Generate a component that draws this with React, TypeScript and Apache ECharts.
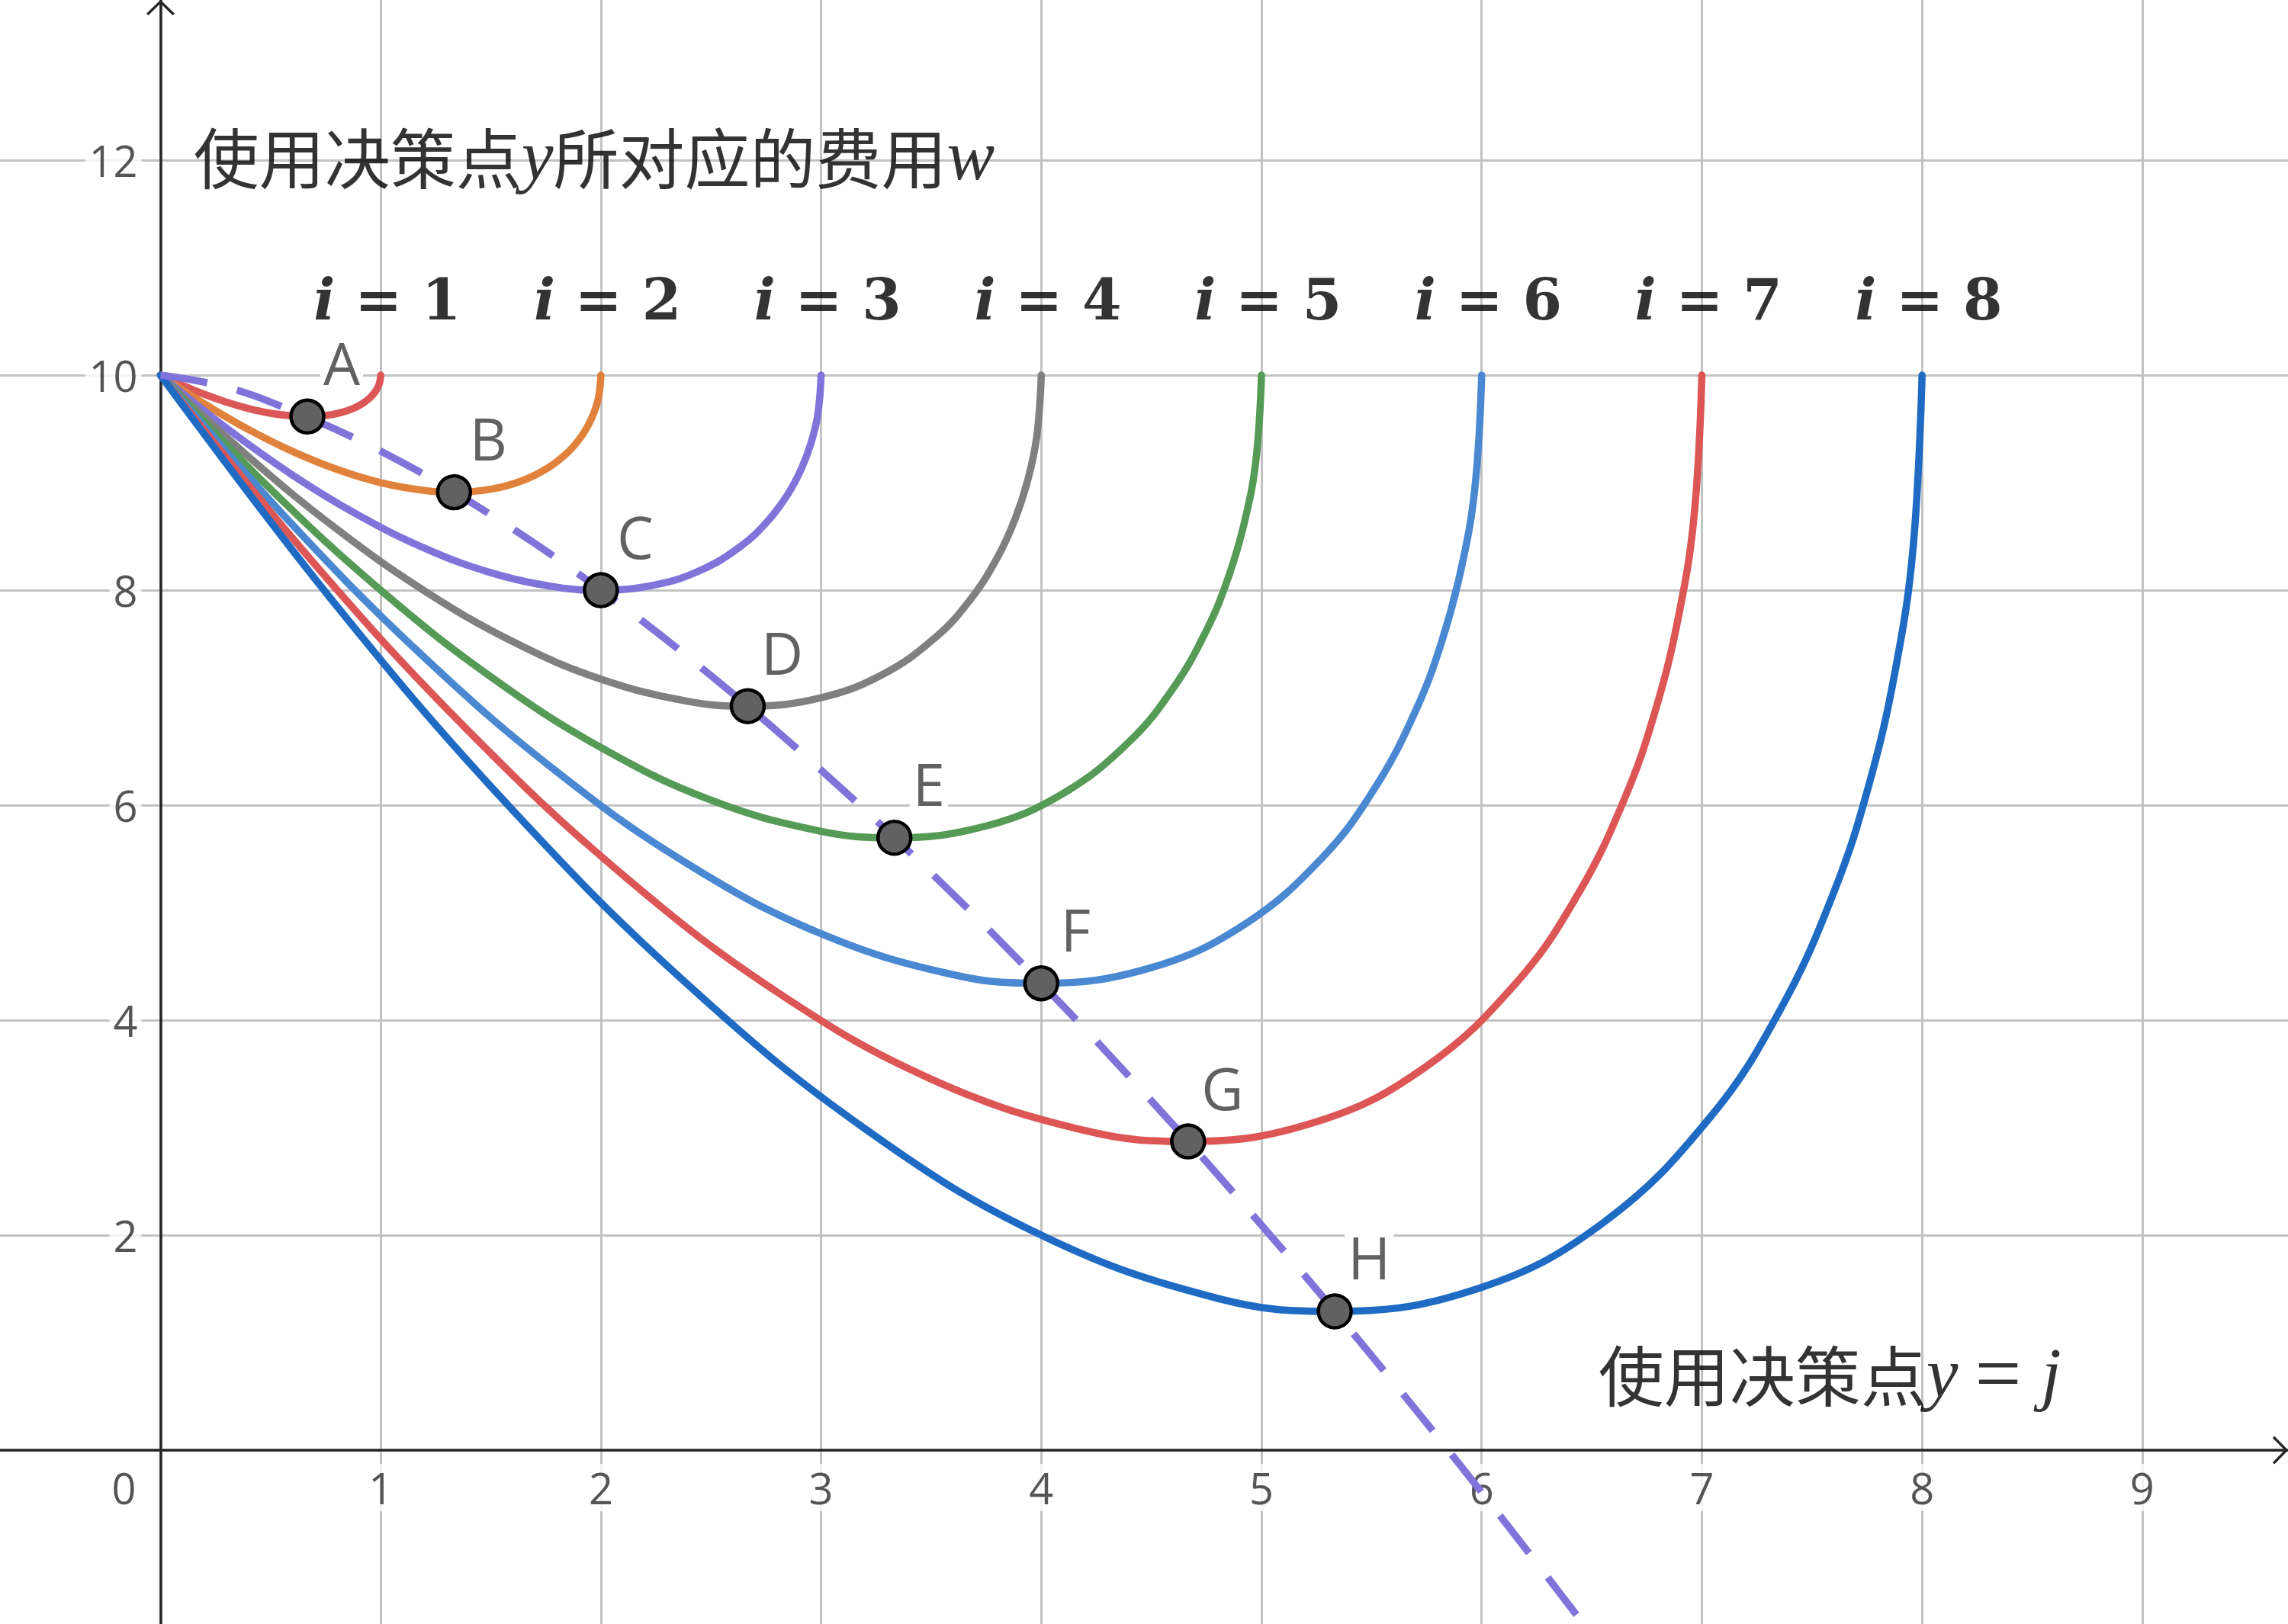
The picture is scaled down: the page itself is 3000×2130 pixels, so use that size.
import { useEffect, useRef } from 'react'
import * as echarts from 'echarts'

// cost curves w(y) for each i as [y, w] pairs
const curveI1 = [[0, 10], [0.1, 9.905], [0.2, 9.821], [0.3, 9.749], [0.4, 9.69], [0.5, 9.646], [0.6, 9.621], [0.667, 9.615], [0.75, 9.625], [0.82, 9.652], [0.88, 9.695], [0.92, 9.74], [0.95, 9.788], [0.97, 9.832], [0.985, 9.879], [0.995, 9.93], [1, 10]]
const curveI2 = [[0, 10], [0.2, 9.732], [0.4, 9.494], [0.6, 9.29], [0.8, 9.124], [1.0, 9.0], [1.2, 8.927], [1.333, 8.911], [1.5, 8.939], [1.64, 9.016], [1.76, 9.138], [1.84, 9.264], [1.9, 9.399], [1.94, 9.525], [1.97, 9.659], [1.99, 9.801], [2, 10]]
const curveI3 = [[0, 10], [0.3, 9.507], [0.6, 9.07], [0.9, 8.696], [1.2, 8.39], [1.5, 8.163], [1.8, 8.028], [2.0, 8.0], [2.25, 8.051], [2.46, 8.192], [2.64, 8.416], [2.76, 8.648], [2.85, 8.896], [2.91, 9.127], [2.955, 9.373], [2.985, 9.634], [3, 10]]
const curveI4 = [[0, 10], [0.4, 9.241], [0.8, 8.569], [1.2, 7.992], [1.6, 7.521], [2.0, 7.172], [2.4, 6.964], [2.667, 6.921], [3.0, 7.0], [3.28, 7.217], [3.52, 7.561], [3.68, 7.918], [3.8, 8.301], [3.88, 8.656], [3.94, 9.035], [3.98, 9.437], [4, 10]]
const curveI5 = [[0, 10], [0.5, 8.939], [1.0, 8.0], [1.5, 7.194], [2.0, 6.536], [2.5, 6.047], [3.0, 5.757], [3.333, 5.697], [3.75, 5.807], [4.1, 6.11], [4.4, 6.592], [4.6, 7.091], [4.75, 7.625], [4.85, 8.122], [4.925, 8.651], [4.975, 9.213], [5, 10]]
const curveI6 = [[0, 10], [0.6, 8.606], [1.2, 7.371], [1.8, 6.311], [2.4, 5.446], [3.0, 4.804], [3.6, 4.423], [4.0, 4.343], [4.5, 4.489], [4.92, 4.887], [5.28, 5.52], [5.52, 6.176], [5.7, 6.878], [5.82, 7.531], [5.91, 8.227], [5.97, 8.966], [6, 10]]
const curveI7 = [[0, 10], [0.7, 8.243], [1.4, 6.687], [2.1, 5.351], [2.8, 4.262], [3.5, 3.452], [4.2, 2.972], [4.667, 2.872], [5.25, 3.055], [5.74, 3.557], [6.16, 4.354], [6.44, 5.181], [6.65, 6.066], [6.79, 6.888], [6.895, 7.766], [6.965, 8.697], [7, 10]]
const curveI8 = [[0, 10], [0.8, 7.853], [1.6, 5.952], [2.4, 4.321], [3.2, 2.989], [4.0, 2.0], [4.8, 1.413], [5.333, 1.291], [6.0, 1.515], [6.56, 2.128], [7.04, 3.102], [7.36, 4.112], [7.6, 5.193], [7.76, 6.198], [7.88, 7.27], [7.96, 8.408], [8, 10]]

const curves = [curveI1, curveI2, curveI3, curveI4, curveI5, curveI6, curveI7, curveI8]
const curveIndex = [1, 2, 3, 4, 5, 6, 7, 8]
const curveColors = ['#dc5858', '#e0823c', '#8074da', '#808080', '#569a57', '#4a89d1', '#dc5656', '#1f6bc4']

// minimum of each curve, and the dashed line through them
const minPoints = [[0.667, 9.615], [1.333, 8.911], [2, 8], [2.667, 6.921], [3.333, 5.697], [4, 4.343], [4.667, 2.872], [5.333, 1.291]]
const pointNames = ['A', 'B', 'C', 'D', 'E', 'F', 'G', 'H']
const dashedLocus = [[0, 10], [0.25, 9.912], [0.5, 9.75], [1, 9.293], [1.5, 8.701], [2, 8], [2.5, 7.205], [3, 6.326], [3.5, 5.37], [4, 4.343], [4.5, 3.25], [5, 2.094], [5.5, 0.879], [6, -0.392], [6.5, -1.718]]

// tick labels
const xTickValues = [0, 1, 2, 3, 4, 5, 6, 7, 8, 9]
const yTickValues = [2, 4, 6, 8, 10, 12]

const arrowPath = 'path://M0,18L18.5,0L37,18L34.6,20.4L18.5,4.6L2.4,20.4Z'
const tickFont = '"Open Sans", "Noto Sans", sans-serif'
const mathFont = '"Liberation Serif", "DejaVu Serif", serif'
const cjkFont = '"Noto Sans CJK SC", sans-serif'

export default function App() {
  const chartRef = useRef<HTMLDivElement | null>(null)

  useEffect(() => {
    if (!chartRef.current) {
      return undefined
    }
    const chart = echarts.init(chartRef.current, undefined, { renderer: 'svg' })

    const axisLine = {
      onZero: true,
      symbol: ['none', arrowPath],
      symbolSize: [37, 20.4],
      symbolOffset: [0, -10],
      lineStyle: { color: '#252525', width: 3.5 },
    }
    const splitLine = {
      show: true,
      showMinLine: false,
      showMaxLine: false,
      lineStyle: { color: '#c2c2c2', width: 3 },
    }
    const tickLabel = {
      fontFamily: tickFont,
      fontSize: 56,
      lineHeight: 56,
      color: '#2a2a2a',
      backgroundColor: '#ffffff',
      padding: [3, 5],
    }

    const curveSeries = curves.map((points, index) => ({
      name: `i=${curveIndex[index]}`,
      type: 'line',
      data: points,
      smooth: 0.4,
      showSymbol: false,
      silent: true,
      z: 2,
      lineStyle: { color: curveColors[index], width: 9.5, cap: 'round', join: 'round' },
    }))

    chart.setOption({
      animation: false,
      backgroundColor: '#ffffff',
      grid: { left: 0, right: 0, top: 0, bottom: 0, containLabel: false, outerBoundsMode: 'none' },
      xAxis: {
        type: 'value',
        min: -0.729,
        max: 9.662,
        splitNumber: 10,
        minInterval: 1,
        maxInterval: 1,
        axisLine,
        axisTick: { show: false },
        splitLine,
        axisLabel: { show: false },
      },
      yAxis: {
        type: 'value',
        min: -1.617,
        max: 13.49,
        splitNumber: 7,
        minInterval: 2,
        maxInterval: 2,
        axisLine,
        axisTick: { show: false },
        splitLine,
        axisLabel: { show: false },
      },
      series: [
        {
          name: 'xTicks',
          type: 'scatter',
          data: xTickValues.map((v) => [v, 0]),
          symbolSize: 0,
          silent: true,
          z: 1,
          label: {
            show: true,
            position: [0, 0],
            align: 'center',
            verticalAlign: 'middle',
            formatter: (p: { dataIndex: number }) => String(xTickValues[p.dataIndex]),
            ...tickLabel,
          },
          labelLayout: (params: { dataIndex: number }) =>
            xTickValues[params.dataIndex] === 0 ? { dx: -48, dy: 49 } : { dy: 49 },
        },
        {
          name: 'yTicks',
          type: 'scatter',
          data: yTickValues.map((v) => [0, v]),
          symbolSize: 0,
          silent: true,
          z: 1,
          label: {
            show: true,
            position: [0, 0],
            align: 'right',
            verticalAlign: 'middle',
            offset: [-25, 0],
            formatter: (p: { dataIndex: number }) => String(yTickValues[p.dataIndex]),
            ...tickLabel,
          },
        },
        ...curveSeries,
        {
          name: 'locus',
          type: 'line',
          data: dashedLocus,
          smooth: 0.4,
          showSymbol: false,
          silent: true,
          z: 3,
          lineStyle: { color: '#8074da', width: 9.5, type: [62, 40] },
        },
        {
          name: 'minima',
          type: 'scatter',
          data: minPoints.map((p, i) => ({ value: p, name: pointNames[i] })),
          symbol: 'circle',
          symbolSize: 43,
          silent: true,
          z: 4,
          itemStyle: { color: '#616161', borderColor: '#000000', borderWidth: 4.5, opacity: 1 },
          label: {
            show: true,
            position: 'inside',
            offset: [45, -71],
            formatter: '{b}',
            fontFamily: tickFont,
            fontSize: 76,
            lineHeight: 70,
            color: '#616161',
            backgroundColor: '#ffffff',
            padding: [0, 4],
          },
        },
        {
          name: 'curveLabels',
          type: 'scatter',
          data: curveIndex.map((i) => [i + 0.03, 10.7]),
          symbolSize: 0,
          silent: true,
          z: 5,
          label: {
            show: true,
            position: 'inside',
            formatter: (p: { dataIndex: number }) => `{i|i}{e| = ${curveIndex[p.dataIndex]}}`,
            rich: {
              i: { fontFamily: '"DejaVu Serif", serif', fontStyle: 'italic', fontWeight: 'bold', fontSize: 74, color: '#000000' },
              e: { fontFamily: '"DejaVu Serif", serif', fontWeight: 'bold', fontSize: 74, color: '#000000' },
            },
          },
        },
        {
          name: 'axisTitles',
          type: 'scatter',
          data: [
            { value: [0.15, 12.05], name: 'w' },
            { value: [6.53, 0.72], name: 'y' },
          ],
          symbolSize: 0,
          silent: true,
          z: 5,
          label: {
            show: true,
            position: [0, 0],
            align: 'left',
            verticalAlign: 'middle',
            formatter: (p: { name: string }) =>
              p.name === 'w' ? '{c|使用决策点}{m|y}{c|所对应的费用}{m|w}' : '{c|使用决策点}{m|y}{e|=}{m|j}',
            rich: {
              c: { fontFamily: cjkFont, fontSize: 86, color: '#000000' },
              m: { fontFamily: mathFont, fontStyle: 'italic', fontSize: 94, color: '#000000' },
              e: { fontFamily: mathFont, fontSize: 108, color: '#000000', padding: [0, 26, 0, 22] },
            },
          },
        },
      ],
    })

    return () => {
      chart.dispose()
    }
  }, [])

  return <div ref={chartRef} style={{ position: 'absolute', left: 0, top: 0, width: 3000, height: 2130 }} />
}
